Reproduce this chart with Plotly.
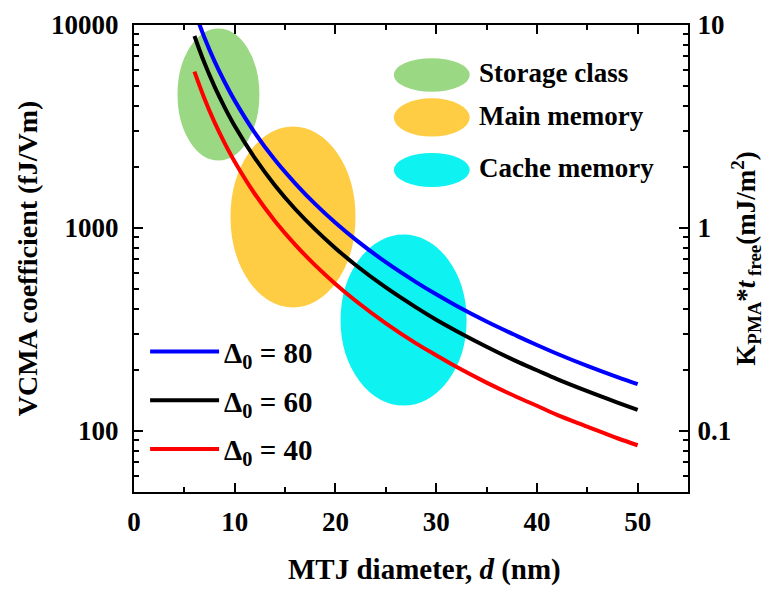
import math
import plotly.graph_objects as go

# MTJ diameter (nm)
diametro = [6, 7, 8, 9, 10, 12, 14, 16, 18, 20, 22, 25, 28, 30, 32, 35, 38, 40, 42, 45, 48, 50]

# VCMA coefficient (fJ/Vm)
vcma_80 = [11780, 8650, 6620, 5240, 4240, 2940, 2160, 1660, 1310, 1060, 876, 678, 541, 471,
           414, 346, 294, 265, 240, 209, 184, 170]
vcma_60 = [8830, 6490, 4970, 3930, 3180, 2210, 1620, 1240, 981, 795, 657, 509, 406, 353,
           311, 260, 220, 199, 180, 157, 138, 127]
vcma_40 = [5890, 4330, 3310, 2620, 2120, 1470, 1080, 828, 654, 530, 438, 339, 270, 236,
           207, 173, 147, 133, 120, 105, 92, 85]

series = [("80", vcma_80, "#0000FF"), ("60", vcma_60, "#000000"), ("40", vcma_40, "#FF0000")]

# clases de memoria
clases = ["Storage class", "Main memory", "Cache memory"]
colores_clase = ["#9AD883", "#FECD44", "#0FF2F2"]

FUENTE = "Liberation Serif"

fig = go.Figure()

for i, (delta, valores, color) in enumerate(series):
    fig.add_trace(go.Scatter(
        x=diametro, y=valores, mode="lines",
        line=dict(color=color, width=4, shape="spline"),
        name="\u0394<sub>0</sub> = " + delta,
        legendgroup=f"g{i}",
    ))

# eje derecho (K_PMA * t_free)
fig.add_trace(go.Scatter(x=[], y=[], yaxis="y2", showlegend=False))

# elipses de las regiones (d en nm, VCMA en fJ/Vm)
regiones = [(4.17, 12.6, 2113, 9770), (9.43, 22.14, 399, 3214), (20.36, 33.17, 131, 944)]
for (x0, x1, y0, y1), c in zip(regiones, colores_clase):
    fig.add_shape(type="circle", xref="x", yref="y", x0=x0, x1=x1, y0=y0, y1=y1,
                  fillcolor=c, line=dict(color="white", width=3), layer="below")

# leyenda de las clases
leyenda_y = [(0.857, 0.929), (0.761, 0.843), (0.653, 0.726)]
for nombre, c, (ya, yb) in zip(clases, colores_clase, leyenda_y):
    fig.add_shape(type="circle", xref="paper", yref="paper", x0=0.469, x1=0.606,
                  y0=ya, y1=yb, fillcolor=c, line=dict(width=0), layer="below")
    fig.add_annotation(x=0.62, y=(ya + yb) / 2 + 0.004, xref="paper", yref="paper",
                       text=nombre, showarrow=False, xanchor="left", yanchor="middle",
                       font=dict(family=FUENTE, size=27, color="black", weight="bold"))

# titulo del eje x
fig.add_annotation(x=0.525, y=-0.167, xref="paper", yref="paper",
                   text="MTJ diameter, <i>d</i> (nm)", showarrow=False,
                   xanchor="center", yanchor="middle",
                   font=dict(family=FUENTE, size=29, color="black", weight="bold"))

eje = dict(showline=True, linewidth=2, linecolor="black", ticks="inside",
           tickcolor="black", tickwidth=2, ticklen=9, showgrid=False, zeroline=False,
           automargin=False,
           tickfont=dict(family=FUENTE, size=27, color="black", weight="bold"))
menor = dict(ticks="inside", ticklen=5, tickwidth=2, tickcolor="black")

fig.update_layout(
    width=775, height=595,
    margin=dict(l=126, r=95, t=17, b=111),
    plot_bgcolor="white", paper_bgcolor="white",
    font=dict(family=FUENTE, color="black", weight="bold"),
    xaxis=dict(**eje, range=[0, 55], tickvals=[0, 10, 20, 30, 40, 50], mirror="ticks",
               ticklabelstandoff=5, minor=dict(dtick=5, **menor)),
    yaxis=dict(**eje, type="log", range=[math.log10(50), 4], mirror="ticks",
               tickvals=[100, 1000, 10000], ticktext=["100", "1000", "10000"],
               ticklabelstandoff=8, minor=dict(dtick="D1", **menor),
               title=dict(text="VCMA coefficient (fJ/Vm)", standoff=5,
                          font=dict(family=FUENTE, size=28, weight="bold"))),
    yaxis2=dict(**eje, type="log", range=[math.log10(0.05), 1], overlaying="y", side="right",
                tickvals=[0.1, 1, 10], ticktext=["0.1", "1", "10"],
                ticklabelstandoff=2, minor=dict(dtick="D1", **menor),
                title=dict(text="K<sub>PMA</sub>*<i>t</i><sub> free</sub>(mJ/m<sup>2</sup>)",
                           standoff=6, font=dict(family=FUENTE, size=27, weight="bold"))),
    legend=dict(x=0.02, y=0.355, xanchor="left", yanchor="top", bgcolor="rgba(0,0,0,0)",
                itemwidth=69, tracegroupgap=8,
                font=dict(family=FUENTE, size=29, color="black", weight="bold")),
)

fig.write_html("out.html")
